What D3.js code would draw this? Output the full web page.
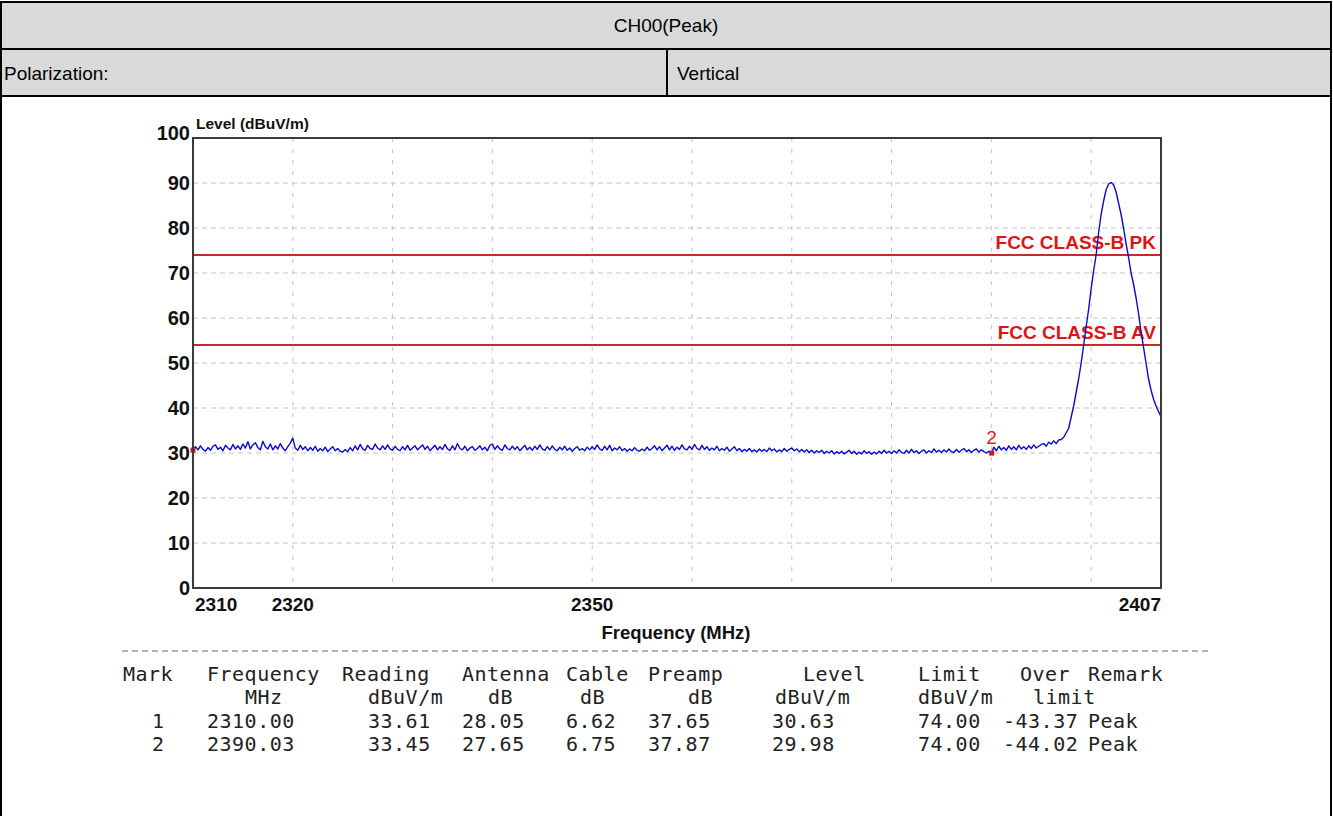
<!DOCTYPE html>
<html lang="en">
<head>
<meta charset="utf-8">
<title>CH00(Peak) - Vertical</title>
<script src="https://cdn.jsdelivr.net/npm/d3@7"></script>
<style>
html, body { margin: 0; padding: 0; background: #fff; }
svg { display: block; }
.cell { font-family: "Liberation Sans", Arial, sans-serif; font-size: 19px; fill: #000; }
.lbl { font-family: "Liberation Sans", Arial, sans-serif; font-weight: bold; fill: #111; }
.tbl { font-family: "DejaVu Sans Mono", "Liberation Mono", monospace; font-size: 20px; letter-spacing: 0.5px; fill: #222; }
</style>
</head>
<body>
<svg id="page" width="1333" height="816"></svg>
<script>
// header cells
var titleText = "CH00(Peak)";
var polLabel = "Polarization:";
var polValue = "Vertical";

// sweep (MHz), one reading every 0.25 MHz
var sweepStart = 2310, sweepStep = 0.25;
var levels = [
  30.6, 31.4, 30.7, 31.6, 30.8, 30.4, 31.2, 30.6, 31.5, 31.8, 30.8, 31.3, 30.5, 31.7, 31.1, 30.7, 31.9, 30.9, 31.6, 30.8,
  32.0, 31.1, 32.5, 30.9, 31.8, 32.3, 31.2, 30.7, 32.6, 31.4, 30.9, 32.0, 30.7, 31.6, 30.9, 32.1, 31.1, 30.5, 31.4, 32.2,
  33.3, 31.1, 30.6, 31.7, 30.8, 31.4, 30.5, 31.2, 30.6, 31.5, 30.4, 31.0, 30.5, 31.3, 30.3, 30.9, 31.4, 30.5, 31.0, 30.4,
  30.2, 30.8, 30.3, 31.2, 30.5, 31.6, 30.7, 31.9, 30.9, 30.6, 31.7, 31.0, 30.8, 32.0, 31.1, 30.7, 31.6, 30.8, 31.8, 30.9,
  30.6, 31.5, 30.8, 30.5, 31.4, 30.7, 31.7, 30.6, 31.1, 31.6, 30.7, 31.3, 31.8, 30.8, 31.5, 30.5, 31.1, 31.7, 30.7, 31.4,
  30.8, 31.9, 30.9, 30.6, 31.6, 30.7, 32.1, 31.0, 30.7, 31.5, 30.5, 31.1, 31.4, 30.6, 31.0, 31.6, 30.7, 31.3, 30.5, 31.7,
  32.0, 30.8, 31.6, 30.9, 30.6, 31.8, 31.0, 30.7, 31.5, 30.8, 31.4, 30.5, 31.1, 31.7, 30.7, 31.3, 30.6, 31.5, 30.8, 31.8,
  30.9, 30.6, 31.4, 30.7, 31.6, 30.8, 30.5, 31.3, 30.7, 31.5, 30.6, 31.1, 30.4, 31.0, 31.4, 30.6, 31.0, 30.5, 31.3, 30.7,
  31.4, 30.8, 31.8, 30.9, 30.6, 31.5, 30.7, 31.7, 30.5, 31.1, 30.7, 31.4, 30.5, 31.0, 30.4, 30.9, 30.5, 31.2, 30.6, 30.4,
  30.9, 30.5, 31.3, 30.6, 31.0, 31.6, 30.7, 31.4, 30.5, 31.1, 31.7, 30.7, 31.5, 30.6, 31.3, 30.8, 31.8, 30.9, 30.7, 31.5,
  30.8, 31.9, 31.0, 30.7, 31.7, 30.8, 31.4, 30.6, 31.1, 30.7, 31.5, 30.5, 31.0, 30.6, 31.3, 30.4, 30.9, 31.4, 30.5, 31.0,
  30.3, 30.8, 30.4, 31.0, 30.3, 30.7, 30.2, 30.9, 30.4, 30.8, 30.3, 31.1, 30.5, 30.9, 30.2, 30.7, 30.3, 31.0, 30.4, 30.8,
  31.1, 30.5, 30.9, 30.3, 30.8, 30.2, 30.7, 30.1, 30.6, 30.0, 30.5, 30.1, 30.6, 29.9, 30.4, 30.0, 30.5, 29.8, 30.3, 29.9,
  30.4, 29.8, 30.2, 30.6, 29.9, 30.4, 29.7, 30.2, 29.8, 30.5, 29.9, 30.3, 29.7, 30.2, 29.8, 30.4, 29.9, 30.6, 30.0, 30.4,
  29.9, 30.5, 30.0, 30.7, 30.1, 29.9, 30.6, 30.0, 30.8, 30.1, 30.5, 29.9, 30.4, 30.7, 30.0, 30.5, 30.1, 30.9, 30.2, 30.6,
  30.1, 30.7, 30.2, 30.9, 30.3, 30.1, 30.8, 30.2, 30.6, 31.0, 30.3, 30.7, 30.1, 30.6, 30.9, 30.2, 30.7, 30.3, 30.0, 30.4,
  30.0, 31.3, 30.5, 31.5, 30.7, 31.2, 30.6, 31.6, 30.8, 31.4, 30.7, 31.7, 30.9, 31.4, 30.8, 31.6, 31.0, 31.8, 31.1, 31.5,
  31.9, 32.1, 31.5, 32.4, 32.0, 32.7, 32.1, 32.9, 33.0, 33.5, 34.5, 35.5, 38.0, 40.5, 43.5, 46.5, 50.0, 54.0, 58.0, 62.0,
  66.5, 70.5, 74.0, 79.0, 83.0, 86.0, 88.5, 89.8, 90.1, 89.6, 88.0, 85.5, 83.0, 80.0, 76.5, 73.5, 70.0, 67.5, 64.5, 61.0,
  57.0, 53.5, 50.0, 46.5, 44.0, 42.0, 40.5, 39.2, 38.1
];

// markers
var markFreq = [2310.00, 2390.03];
var markLevel = [30.63, 29.98];
var markName = ["1", "2"];

// limit lines
var limitNames = ["FCC CLASS-B PK", "FCC CLASS-B AV"];
var limitValues = [74, 54];

// axes
var xDomain = [2310, 2407];
var yDomain = [0, 100];
var xTickValues = [2310, 2320, 2350, 2407];
var xGridValues = [2320, 2330, 2340, 2350, 2360, 2370, 2380, 2390, 2400];
var yTickValues = [0, 10, 20, 30, 40, 50, 60, 70, 80, 90, 100];
var yTitle = "Level (dBuV/m)";
var xTitle = "Frequency (MHz)";

// result table
var tableCols = ["Mark", "Frequency", "Reading", "Antenna", "Cable", "Preamp", "Level", "Limit", "Over", "Remark"];
var tableUnits = ["", "MHz", "dBuV/m", "dB", "dB", "dB", "dBuV/m", "dBuV/m", "limit", ""];
var tableRows = [
  ["1", "2310.00", "33.61", "28.05", "6.62", "37.65", "30.63", "74.00", "-43.37", "Peak"],
  ["2", "2390.03", "33.45", "27.65", "6.75", "37.87", "29.98", "74.00", "-44.02", "Peak"]
];

var svg = d3.select("#page");

// ---- header table ----
var gray = "#d9d9d9";
svg.append("rect").attr("x", 1).attr("y", 2).attr("width", 1330).attr("height", 94).attr("fill", gray);
svg.append("rect").attr("x", 1).attr("y", 2).attr("width", 1330).attr("height", 830)
    .attr("fill", "none").attr("stroke", "#000").attr("stroke-width", 2);
[49, 96].forEach(function(y) {
  svg.append("line").attr("x1", 1).attr("x2", 1331).attr("y1", y).attr("y2", y)
      .attr("stroke", "#000").attr("stroke-width", 2);
});
svg.append("line").attr("x1", 667).attr("x2", 667).attr("y1", 49).attr("y2", 96)
    .attr("stroke", "#000").attr("stroke-width", 2);

svg.append("text").attr("class", "cell").attr("x", 666).attr("y", 32)
    .attr("text-anchor", "middle").text(titleText);
svg.append("text").attr("class", "cell").attr("x", 4).attr("y", 80).text(polLabel);
svg.append("text").attr("class", "cell").attr("x", 677).attr("y", 80).text(polValue);

// ---- chart ----
var plot = {left: 193, right: 1161, top: 138, bottom: 588};

var x = d3.scaleLinear().domain(xDomain).range([plot.left, plot.right]);
var y = d3.scaleLinear().domain(yDomain).range([plot.bottom, plot.top]);

var g = svg.append("g");

g.append("clipPath").attr("id", "clip").append("rect")
    .attr("x", plot.left).attr("y", plot.top)
    .attr("width", plot.right - plot.left).attr("height", plot.bottom - plot.top);

// grid
g.selectAll(".hgrid").data(yTickValues.filter(function(v) { return v > 0 && v < 100; }))
  .enter().append("line")
    .attr("x1", plot.left).attr("x2", plot.right)
    .attr("y1", function(d) { return y(d); }).attr("y2", function(d) { return y(d); })
    .attr("stroke", "#c4c4c4").attr("stroke-width", 1).attr("stroke-dasharray", "5,4");

g.selectAll(".vgrid").data(xGridValues)
  .enter().append("line")
    .attr("x1", function(d) { return x(d); }).attr("x2", function(d) { return x(d); })
    .attr("y1", plot.top).attr("y2", plot.bottom)
    .attr("stroke", "#c4c4c4").attr("stroke-width", 1).attr("stroke-dasharray", "4,7");

// limit lines
limitValues.forEach(function(v, i) {
  g.append("line")
      .attr("x1", plot.left).attr("x2", plot.right)
      .attr("y1", y(v)).attr("y2", y(v))
      .attr("stroke", "#c8282c").attr("stroke-width", 2);
  g.append("text").attr("class", "lbl")
      .attr("x", plot.right - 5).attr("y", y(v) - 6)
      .attr("text-anchor", "end").attr("font-size", 19)
      .style("fill", "#e01414")
      .text(limitNames[i]);
});

// trace
var line = d3.line()
    .x(function(d, i) { return x(sweepStart + i * sweepStep); })
    .y(function(d) { return y(d); });

g.append("path").datum(levels)
    .attr("clip-path", "url(#clip)")
    .attr("d", line)
    .attr("fill", "none").attr("stroke", "#0a0ad0").attr("stroke-width", 1.4)
    .attr("stroke-linejoin", "round");

// markers
markFreq.forEach(function(f, i) {
  g.append("rect")
      .attr("x", x(f) - 2.5).attr("y", y(markLevel[i]) - 2.5)
      .attr("width", 5).attr("height", 5).attr("fill", "#e01010");
  if (i > 0) {
    g.append("text")
        .attr("x", x(f)).attr("y", y(markLevel[i]) - 9)
        .attr("text-anchor", "middle")
        .attr("font-family", "Liberation Sans, Arial, sans-serif").attr("font-size", 19)
        .attr("fill", "#e02020").text(markName[i]);
  }
});

// frame
g.append("rect")
    .attr("x", plot.left).attr("y", plot.top)
    .attr("width", plot.right - plot.left).attr("height", plot.bottom - plot.top)
    .attr("fill", "none").attr("stroke", "#3a3a3a").attr("stroke-width", 2);

// y ticks
g.selectAll(".ytick").data(yTickValues)
  .enter().append("text").attr("class", "lbl")
    .attr("x", plot.left - 3)
    .attr("y", function(d) { return y(d) + (d === 100 ? 2 : 7); })
    .attr("text-anchor", "end").attr("font-size", 20)
    .text(function(d) { return d; });

// x ticks
g.selectAll(".xtick").data(xTickValues)
  .enter().append("text").attr("class", "lbl")
    .attr("x", function(d, i) { return x(d) + (i === 0 ? 2 : 0); })
    .attr("y", plot.bottom + 23)
    .attr("text-anchor", function(d, i) {
      return i === 0 ? "start" : (i === xTickValues.length - 1 ? "end" : "middle");
    })
    .attr("font-size", 19)
    .text(function(d) { return d; });

g.append("text").attr("class", "lbl")
    .attr("x", plot.left + 3).attr("y", plot.top - 9)
    .attr("font-size", 15.5).text(yTitle);

g.append("text").attr("class", "lbl")
    .attr("x", 676).attr("y", plot.bottom + 51)
    .attr("text-anchor", "middle").attr("font-size", 18.5).text(xTitle);

// ---- result table ----
var t = svg.append("g").attr("class", "tbl");

t.append("line").attr("x1", 122).attr("x2", 1208).attr("y1", 651).attr("y2", 651)
    .attr("stroke", "#666").attr("stroke-width", 1.2).attr("stroke-dasharray", "6,4");

var colHead = [123, 207, 342, 462, 566, 648, 803, 918, 1020, 1088];
var colUnit = [0, 245, 368, 488, 580, 688, 775, 918, 1033, 0];
var colVal  = [152, 207, 368, 462, 566, 648, 772, 918, 1003, 1088];
var rowY = [681, 704, 728, 751];

tableCols.forEach(function(c, i) {
  t.append("text").attr("x", colHead[i]).attr("y", rowY[0]).text(c);
  if (tableUnits[i]) t.append("text").attr("x", colUnit[i]).attr("y", rowY[1]).text(tableUnits[i]);
});
tableRows.forEach(function(r, k) {
  r.forEach(function(v, i) {
    t.append("text").attr("x", colVal[i]).attr("y", rowY[2 + k]).text(v);
  });
});
</script>
</body>
</html>
